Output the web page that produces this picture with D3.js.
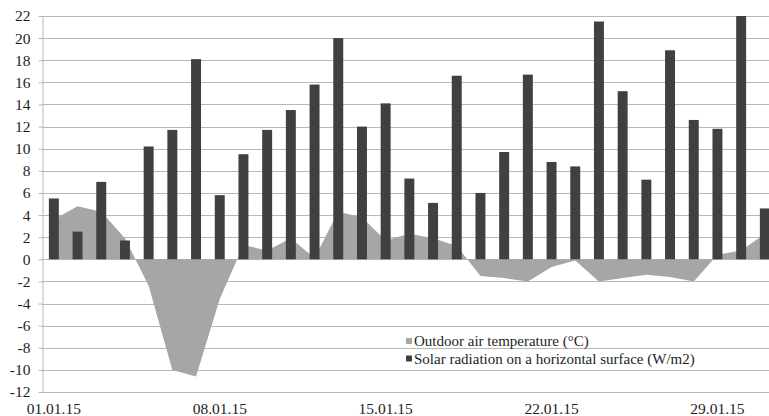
<!DOCTYPE html>
<html>
<head>
<meta charset="utf-8">
<script src="https://cdn.jsdelivr.net/npm/d3@7"></script>
<style>
  body { margin: 0; background: #fff; }
  svg { display: block; font-family: "Liberation Serif", "Times New Roman", serif; }
</style>
</head>
<body>
<svg width="769" height="416"></svg>
<script>
// days of January 2015
let days = ["01.01.15","02.01.15","03.01.15","04.01.15","05.01.15","06.01.15","07.01.15","08.01.15",
  "09.01.15","10.01.15","11.01.15","12.01.15","13.01.15","14.01.15","15.01.15","16.01.15",
  "17.01.15","18.01.15","19.01.15","20.01.15","21.01.15","22.01.15","23.01.15","24.01.15",
  "25.01.15","26.01.15","27.01.15","28.01.15","29.01.15","30.01.15","31.01.15"];
let radiation = [5.5, 2.5, 7.0, 1.7, 10.2, 11.7, 18.1, 5.8, 9.5, 11.7, 13.5, 15.8, 20.0, 12.0, 14.1, 7.3,
  5.1, 16.6, 6.0, 9.7, 16.7, 8.8, 8.4, 21.5, 15.2, 7.2, 18.9, 12.6, 11.8, 22.0, 4.6];
let temperature = [3.6, 4.8, 4.3, 1.9, -2.4, -10.0, -10.6, -3.6, 1.3, 0.8, 1.9, 0.1, 4.3, 3.8, 1.7, 2.3,
  1.9, 1.2, -1.5, -1.7, -2.0, -0.7, -0.1, -2.0, -1.7, -1.4, -1.6, -2.0, 0.4, 0.8, 2.3];
let xTickLabels = ["01.01.15", "08.01.15", "15.01.15", "22.01.15", "29.01.15"];
let yTicks = [-12, -10, -8, -6, -4, -2, 0, 2, 4, 6, 8, 10, 12, 14, 16, 18, 20, 22];
let seriesNames = ["Outdoor air temperature (°C)", "Solar radiation on a horizontal surface (W/m2)"];

let svg = d3.select('svg');
let margin = { top: 16, bottom: 24, left: 42 };
let step = 23.7;

let x = d3.scaleBand()
  .domain(days)
  .range([margin.left, margin.left + step * days.length])
  .paddingInner(0.58)
  .paddingOuter(0.29);
let y = d3.scaleLinear()
  .domain([-12, 22])
  .range([392, margin.top]);

let cx = d => x(d) + x.bandwidth() / 2;

// gridlines
svg.append("g")
  .selectAll("line")
  .data(yTicks)
  .enter()
    .append("line")
    .attr("x1", margin.left)
    .attr("x2", 769)
    .attr("y1", d => Math.round(y(d)) + 0.5)
    .attr("y2", d => Math.round(y(d)) + 0.5)
    .attr("stroke", "#b8b8b8")
    .attr("stroke-width", 1);

// temperature area
let area = d3.area()
  .x((d, i) => cx(days[i]))
  .y0(y(0))
  .y1(d => y(d));
svg.append("path")
  .datum(temperature)
  .attr("fill", "#a6a6a6")
  .attr("d", area);

// radiation bars
svg.append("g")
  .selectAll("rect")
  .data(radiation)
  .enter()
    .append("rect")
    .attr("x", (d, i) => x(days[i]))
    .attr("width", x.bandwidth())
    .attr("y", d => y(d))
    .attr("height", d => y(0) - y(d))
    .attr("fill", "#404040");

// y axis (plain hyphen for negatives, like the original)
let yAxis = g => g
  .attr("transform", `translate(${margin.left + 0.5},0)`)
  .call(d3.axisLeft(y).tickValues(yTicks).tickFormat(d => String(d))
    .tickSize(4).tickSizeOuter(0).tickPadding(8))
  .call(g => g.select(".domain").attr("stroke", "#b8b8b8"))
  .call(g => g.selectAll(".tick line").attr("stroke", "#b8b8b8"))
  .call(g => g.selectAll(".tick text")
    .attr("font-size", 15.5)
    .attr("font-family", "Liberation Serif, Times New Roman, serif")
    .attr("fill", "#1e1e1e"));
svg.append("g").call(yAxis);

// x labels
svg.append("g")
  .selectAll("text")
  .data(xTickLabels)
  .enter()
    .append("text")
    .attr("x", d => cx(d))
    .attr("y", 414)
    .attr("text-anchor", "middle")
    .attr("font-size", 15.5)
    .attr("fill", "#1e1e1e")
    .text(d => d);

// legend
let addLegend = (lx, ly, color, text) => {
  let legend = svg.append("g").attr("class", "legend");
  legend.append("rect")
    .attr("x", lx)
    .attr("y", ly - 8)
    .attr("width", 6)
    .attr("height", 6)
    .style("fill", color);
  legend.append("text")
    .attr("x", lx + 8)
    .attr("y", ly)
    .attr("font-size", 15)
    .attr("fill", "#1e1e1e")
    .text(text);
}
addLegend(406, 346, "#a6a6a6", seriesNames[0]);
addLegend(406, 363.5, "#404040", seriesNames[1]);
</script>
</body>
</html>
